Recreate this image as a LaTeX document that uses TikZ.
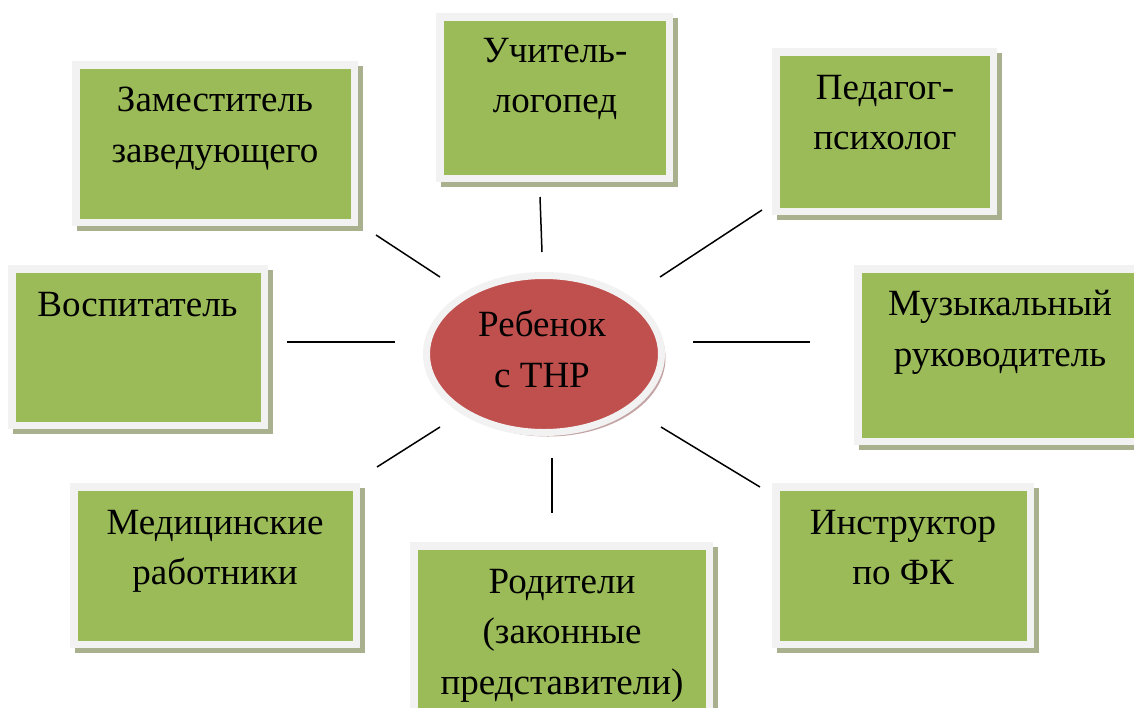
\documentclass[tikz,border=0pt]{standalone}
\usepackage{fontspec}
\setmainfont{Liberation Serif}
\usetikzlibrary{shadows,shapes.geometric}
\definecolor{boxgreen}{RGB}{155,187,89}
\definecolor{framec}{RGB}{242,242,242}
\definecolor{shadowc}{RGB}{168,176,142}
\definecolor{childred}{RGB}{192,80,77}
\definecolor{redshadow}{RGB}{196,164,164}
\tikzset{
  rolebox/.style={rectangle, fill=framec, inner sep=0pt,
    drop shadow={shadow xshift=4.5pt, shadow yshift=-4.5pt, fill=shadowc, opacity=1},
    path picture={\fill[boxgreen] ([shift={(7.5pt,7.5pt)}]path picture bounding box.south west)
      rectangle ([shift={(-7.5pt,-7.5pt)}]path picture bounding box.north east);}},
  roletext/.style={anchor=north, align=center, inner sep=0pt, text=black,
    font=\fontsize{37}{50.5}\selectfont},
  childnode/.style={ellipse, fill=childred, draw=framec, line width=7pt, inner sep=0pt,
    minimum width=235pt, minimum height=157pt,
    drop shadow={shadow xshift=4pt, shadow yshift=-4pt, fill=redshadow, opacity=1}},
  link/.style={draw=black, line width=1.5pt}
}
\begin{document}
\begin{tikzpicture}[x=1pt,y=-1pt]
\useasboundingbox (0,0) rectangle (1134,707);
% boxes
\node[rolebox, minimum width=286pt, minimum height=165pt] (zam) at (215,143.5) {};
\node[rolebox, minimum width=237pt, minimum height=169pt] (uch) at (554.5,97.5) {};
\node[rolebox, minimum width=225pt, minimum height=167pt] (ped) at (884.5,131.5) {};
\node[rolebox, minimum width=260pt, minimum height=164pt] (vos) at (138,347) {};
\node[rolebox, minimum width=292pt, minimum height=180pt] (muz) at (1000,355) {};
\node[rolebox, minimum width=290pt, minimum height=165pt] (med) at (215,565.5) {};
\node[rolebox, minimum width=303pt, minimum height=183pt] (rod) at (561.5,633.5) {};
\node[rolebox, minimum width=262pt, minimum height=165pt] (ins) at (903,565.5) {};
% centre
\node[childnode] (child) at (544,354) {};
% texts
\node[roletext] (zamT) at (215,87) {Заместитель\\заведующего};
\node[roletext] (uchT) at (555,38) {Учитель-\\логопед};
\node[roletext] (pedT) at (885,75) {Педагог-\\психолог};
\node[roletext] (vosT) at (137.5,292) {Воспитатель};
\node[roletext] (muzT) at (1000,290) {Музыкальный\\руководитель};
\node[roletext] (medT) at (215,510) {Медицинские\\работники};
\node[roletext] (rodT) at (562,569) {Родители\\(законные\\представители)};
\node[roletext] (insT) at (903,510) {Инструктор\\по ФК};
\node[roletext] (childT) at (542,310) {Ребенок\\с ТНР};
% connector ends
\coordinate (a1) at (376,235); \coordinate (b1) at (440,277);
\coordinate (a2) at (540,197); \coordinate (b2) at (542,252);
\coordinate (a3) at (762,210); \coordinate (b3) at (660,277);
\coordinate (a4) at (287,342); \coordinate (b4) at (395,342);
\coordinate (a5) at (693,342); \coordinate (b5) at (810,342);
\coordinate (a6) at (377,467); \coordinate (b6) at (440,427);
\coordinate (a7) at (552,458); \coordinate (b7) at (552,513);
\coordinate (a8) at (661,427); \coordinate (b8) at (760,487);
\foreach \i in {1,...,8} { \draw[link] (a\i) -- (b\i); }
\end{tikzpicture}
\end{document}
